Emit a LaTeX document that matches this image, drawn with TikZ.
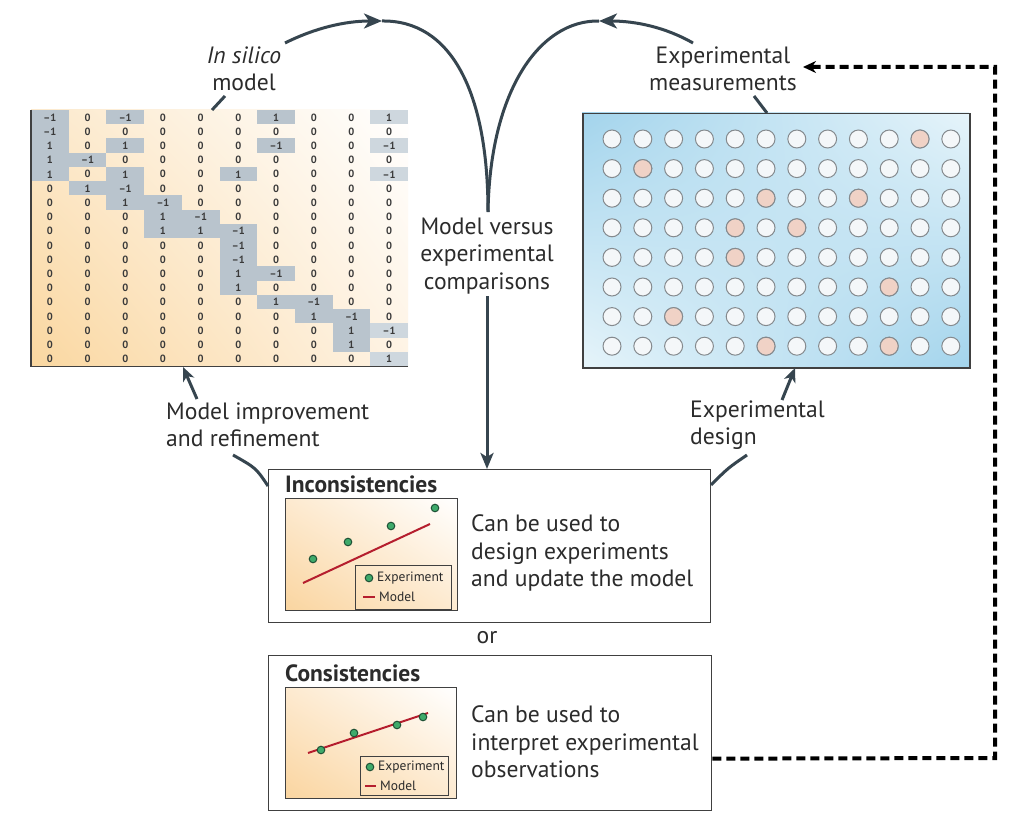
\documentclass[tikz,border=0pt]{standalone}
\usepackage{fontspec}
\setmainfont{PT Sans}
\usetikzlibrary{arrows.meta,shadings}
\definecolor{arrowc}{HTML}{36454F}
\definecolor{textc}{HTML}{2B2B2B}
\definecolor{cella}{HTML}{B9C4CD}
\definecolor{cellb}{HTML}{CED7DE}
\definecolor{numc}{HTML}{3A3A3A}
\definecolor{matLL}{HTML}{FAD7A0}
\definecolor{matUL}{HTML}{FCE9CC}
\definecolor{matLR}{HTML}{FEF3E4}
\definecolor{plateA}{HTML}{A3D4EC}
\definecolor{plateB}{HTML}{E6F4FA}
\definecolor{wellw}{HTML}{F4F7F9}
\definecolor{wellp}{HTML}{F0D2C6}
\definecolor{wells}{HTML}{858A8E}
\definecolor{plotLL}{HTML}{FAD5A0}
\definecolor{plotM}{HTML}{FDEAD0}
\definecolor{dotg}{HTML}{3FAA6B}
\definecolor{dotd}{HTML}{1D4F34}
\definecolor{redl}{HTML}{B51E2E}
\definecolor{boxc}{HTML}{404040}
\begin{document}
\begin{tikzpicture}[x=1pt,y=-1pt,
  lbl/.style={text=textc,font=\fontsize{23.6}{27.5}\selectfont,align=center,inner sep=2pt},
  lbll/.style={lbl,align=left},
  ttl/.style={text=textc,font=\fontsize{23.5}{26}\selectfont\bfseries,inner sep=0pt},
  legt/.style={text=textc,font=\fontsize{13.5}{15}\selectfont,inner sep=0pt,anchor=west},
  mnum/.style={text=numc,font=\fontsize{10.5}{11}\selectfont\bfseries,inner sep=0pt},
  flow/.style={draw=arrowc,line width=3pt},
  tipa/.style={-{Stealth[length=18pt,width=15pt,inset=5pt]}},
  boxst/.style={draw=boxc,line width=1.3pt,inner sep=0pt,anchor=north west},
  plotst/.style={draw=boxc,line width=1pt,inner sep=0pt,anchor=north west},
  dashst/.style={draw=black,line width=4pt,dash pattern=on 9pt off 5pt},
  dot/.style={fill=dotg,draw=dotd,line width=1pt}
]
\useasboundingbox (0,0) rectangle (1024,826);
\fill[white] (0,0) rectangle (1024,826);

% ---------- stoichiometric matrix ----------
\shade[lower left=matLL,upper left=matUL,lower right=matLR,upper right=white] (31,110) rectangle (408,366);
\foreach \rowvals [count=\rr from 0] in {
{-1,0,-1,0,0,0,1,0,0,1},
{-1,0,0,0,0,0,0,0,0,0},
{1,0,1,0,0,0,-1,0,0,-1},
{1,-1,0,0,0,0,0,0,0,0},
{1,0,1,0,0,1,0,0,0,-1},
{0,1,-1,0,0,0,0,0,0,0},
{0,0,1,-1,0,0,0,0,0,0},
{0,0,0,1,-1,0,0,0,0,0},
{0,0,0,1,1,-1,0,0,0,0},
{0,0,0,0,0,-1,0,0,0,0},
{0,0,0,0,0,-1,0,0,0,0},
{0,0,0,0,0,1,-1,0,0,0},
{0,0,0,0,0,1,0,0,0,0},
{0,0,0,0,0,0,1,-1,0,0},
{0,0,0,0,0,0,0,1,-1,0},
{0,0,0,0,0,0,0,0,1,-1},
{0,0,0,0,0,0,0,0,1,0},
{0,0,0,0,0,0,0,0,0,1}} {
  \foreach \v [count=\cc from 0] in \rowvals {
    \ifnum\v=0\relax\else
      \ifnum\cc=9\relax
        \fill[cellb] (31+\cc*37.7,110+\rr*14.22) rectangle ++(37.7,14.22);
      \else
        \fill[cella] (31+\cc*37.7,110+\rr*14.22) rectangle ++(37.7,14.22);
      \fi
    \fi
    \node[mnum] at (31+\cc*37.7+18.85,110+\rr*14.22+7.4) {\ifnum\v<0 \textendash1\else\v\fi};
  }
}
\node[inner sep=0pt,minimum width=377pt,minimum height=256pt,anchor=north west] (mat) at (31,110) {};
\draw[draw=boxc,line width=1.8pt] (mat.north west) -- (mat.south west) -- (mat.south east);

% ---------- well plate ----------
\shade[upper left=plateA,lower right=plateA,upper right=plateB,lower left=plateB] (582,113) rectangle (969,367);
\node[draw=boxc,line width=1.5pt,inner sep=0pt,minimum width=387pt,minimum height=254pt,anchor=north west] (plate) at (582,113) {};
\foreach \i in {0,...,11} {
  \foreach \j in {0,...,7} {
    \filldraw[fill=wellw,draw=wells,line width=1pt] (612+\i*30.8,139+\j*29.6) circle[radius=9pt];
  }
}
\foreach \j/\i in {0/10,1/1,2/5,2/8,3/4,3/6,4/4,5/9,6/2,7/5,7/9} {
  \filldraw[fill=wellp,draw=wells,line width=1pt] (612+\i*30.8,139+\j*29.6) circle[radius=9pt];
}

% ---------- labels ----------
\node[lbl] (insilico) at (244,69) {\textit{In silico}\\model};
\node[lbl] (expmeas) at (723,69) {Experimental\\measurements};
\node[lbl] (mvc) at (487,256) {Model versus\\experimental\\comparisons};
\node[lbll,anchor=west] (mir) at (164,425) {Model improvement\\and refinement};
\node[lbll,anchor=west] (expdes) at (688,425) {Experimental\\design};
\node[lbl] (or) at (487,638) {or};

% ---------- Inconsistencies box ----------
\node[boxst,minimum width=442pt,minimum height=153pt] (inc) at (268,469) {};
\node[ttl,anchor=base west] (inctitle) at (285,492) {Inconsistencies};
\shade[lower left=plotLL,upper left=plotM,lower right=plotM,upper right=white] (285,498) rectangle (457,610);
\node[plotst,minimum width=172pt,minimum height=112pt] (p1) at (285,498) {};
\draw[redl,line width=2pt] (303,583) -- (430,524);
\foreach \px/\py in {313/559,348/542,391/526,435/508} \filldraw[dot] (\px,\py) circle[radius=3.8pt];
\node[plotst,minimum width=96pt,minimum height=44pt] (leg1) at (355,565) {};
\filldraw[dot] (369,578) circle[radius=3.8pt];
\node[legt] (l1e) at (377,578) {Experiment};
\draw[redl,line width=2pt] (363,597) -- (375,597);
\node[legt] (l1m) at (379,597) {Model};
\node[lbll,anchor=west] (inctext) at (469,553) {Can be used to\\design experiments\\and update the model};

% ---------- Consistencies box ----------
\node[boxst,minimum width=443pt,minimum height=155pt] (cons) at (268,655) {};
\node[ttl,anchor=base west] (constitle) at (285,681) {Consistencies};
\shade[lower left=plotLL,upper left=plotM,lower right=plotM,upper right=white] (285,687) rectangle (456,798);
\node[plotst,minimum width=171pt,minimum height=111pt] (p2) at (285,687) {};
\draw[redl,line width=2pt] (308,753) -- (428,713);
\foreach \px/\py in {321/750,354/733,397/725,423/717} \filldraw[dot] (\px,\py) circle[radius=3.8pt];
\node[plotst,minimum width=88pt,minimum height=39pt] (leg2) at (360,756) {};
\filldraw[dot] (370,767) circle[radius=3.8pt];
\node[legt] (l2e) at (378,767) {Experiment};
\draw[redl,line width=2pt] (365,786) -- (376,786);
\node[legt] (l2m) at (380,786) {Model};
\node[lbll,anchor=west] (constext) at (469,742) {Can be used to\\interpret experimental\\observations};

% ---------- connectors ----------
\coordinate (lpeak) at (382,21);
\coordinate (rpeak) at (599,21);
\coordinate (meet) at (488,212);
\coordinate (lstart) at (285,43);
\coordinate (rstart) at (693,43);
\draw[flow,tipa] (lstart) .. controls (315,28) and (345,21) .. (lpeak);
\draw[flow] (lpeak) .. controls (450,20) and (488,90) .. (meet);
\draw[flow,tipa] (rstart) .. controls (665,27) and (635,21) .. (rpeak);
\draw[flow] (rpeak) .. controls (540,20) and (490,90) .. (meet);
\draw[flow,-{Stealth[length=16pt,width=13pt,inset=4pt]}] (mvc.south) -- (mvc.south |- inc.north);

% label ticks
\coordinate (is1) at (225,96);
\coordinate (is2) at (212,110);
\draw[flow] (is1) -- (is2);
\coordinate (em1) at (754,96);
\coordinate (em2) at (767,113);
\draw[flow] (em1) -- (em2);

% model improvement
\coordinate (mi1) at (197,399);
\coordinate (mi2) at (183,367);
\draw[flow,-{Stealth[length=14pt,width=12pt,inset=4pt]}] (mi1) -- (mi2);
\coordinate (mi3) at (268,486);
\coordinate (mi4) at (233,455);
\draw[flow] (mi3) .. controls (256,468) .. (mi4);

% experimental design
\coordinate (ed1) at (782,400);
\coordinate (ed2) at (795,368);
\draw[flow,-{Stealth[length=14pt,width=12pt,inset=4pt]}] (ed1) -- (ed2);
\coordinate (ed3) at (711,485);
\coordinate (ed4) at (747,455);
\draw[flow] (ed3) .. controls (728,468) .. (ed4);

% dashed feedback
\coordinate (dtip) at (803,67);
\draw[dashst,-{Stealth[length=13pt,width=12pt]}] ([yshift=-25.5pt]cons.east) -- (995,758) -- (995,67) -- (dtip);
\end{tikzpicture}
\end{document}
